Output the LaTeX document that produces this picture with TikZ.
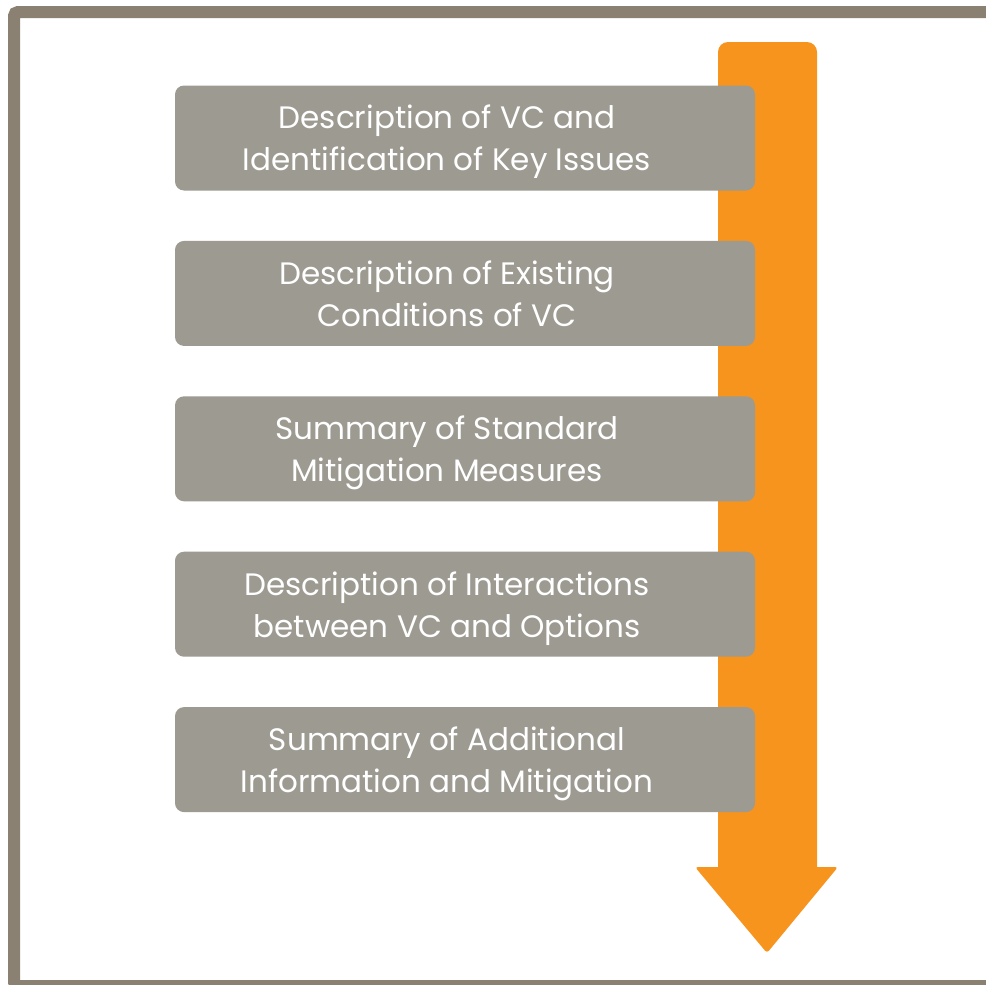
\documentclass[tikz,border=0pt]{standalone}
\usepackage{fontspec}
\setmainfont{Poppins}
\usetikzlibrary{positioning}
\definecolor{frame}{HTML}{8A8172}
\definecolor{boxgray}{HTML}{9D9A91}
\definecolor{flow}{HTML}{F7941D}
\newcommand\steptxt[2]{#1\rule{36pt}{0pt}\\#2\rule{36pt}{0pt}}
\tikzset{stepbox/.style={fill=boxgray,rounded corners=9pt,minimum width=580pt,minimum height=105pt,
  text=white,align=center,inner sep=0pt,text depth=0pt,font=\fontsize{31}{42}\selectfont}}

\begin{document}
\begin{tikzpicture}[x=1pt,y=-1pt]
\useasboundingbox(0,0)rectangle(986,985);
\draw[frame,line width=12pt,rounded corners=4pt](990,12)--(14,12)--(14,986)--(990,986);
\fill[flow,rounded corners=10pt](718,885)--(718,42)--(817,42)--(817,885)--cycle;
\fill[flow,rounded corners=3pt](695,867)--(838,867)--(767,953)--cycle;
\node[stepbox](s1)at(465,138){\steptxt{Description of VC and}{Identification of Key Issues}};
\node[stepbox,below=50pt of s1](s2){\steptxt{Description of Existing}{Conditions of VC}};
\node[stepbox,below=50pt of s2](s3){\steptxt{Summary of Standard}{Mitigation Measures}};
\node[stepbox,below=50pt of s3](s4){\steptxt{Description of Interactions}{between VC and Options}};
\node[stepbox,below=50pt of s4](s5){\steptxt{Summary of Additional}{Information and Mitigation}};
\end{tikzpicture}
\end{document}
